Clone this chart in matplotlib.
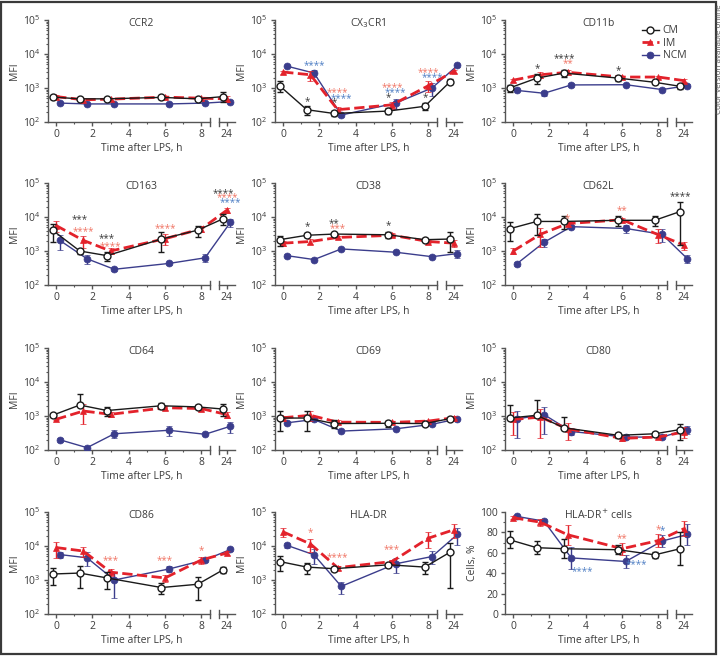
import numpy as np
import matplotlib
matplotlib.use("Agg")
import matplotlib.pyplot as plt
import matplotlib.transforms as mtransforms
from matplotlib.patches import Rectangle
from matplotlib.ticker import FixedLocator, NullFormatter, LogLocator

plt.rcParams["font.family"] = ["Open Sans", "DejaVu Sans"]
plt.rcParams["mathtext.fontset"] = "dejavusans"

# sampling times (h) and axis ticks
times = [0, 1.5, 3, 6, 8, 24]
tick_hours = [0, 2, 4, 6, 8, 24]
series = ["CM", "IM", "NCM"]

# mean values, rows: CM, IM, NCM
ccr2_mfi = [[540, 480, 480, 530, 480, 560], [560, 450, 470, 540, 500, 480], [360, 340, 340, 340, 360, 400]]
ccr2_sd = [[60, 40, 40, 50, 40, 180], [80, 50, 50, 60, 50, 100], [20, 20, 20, 20, 20, 40]]

cx3cr1_mfi = [[1170, 230, 178, 210, 290, 1540], [2950, 2450, 230, 320, 1170, 3100], [4400, 2750, 160, 360, 1000, 4600]]
cx3cr1_sd = [[400, 70, 30, 40, 70, 250], [300, 800, 50, 80, 400, 300], [300, 600, 20, 120, 400, 400]]

cd11b_mfi = [[1000, 1950, 2750, 1950, 1470, 1120], [1700, 2450, 2900, 2100, 2100, 1650], [850, 700, 1230, 1250, 900, 1170]]
cd11b_sd = [[250, 650, 700, 350, 150, 200], [150, 500, 400, 200, 200, 150], [60, 120, 150, 100, 80, 100]]

cd163_mfi = [[4100, 1000, 730, 2250, 4100, 8900], [5600, 2050, 1000, 2300, 4500, 15800], [2050, 590, 290, 430, 630, 7000]]
cd163_sd = [[2300, 180, 220, 1300, 1500, 3000], [2000, 800, 200, 800, 900, 3000], [1000, 180, 30, 40, 160, 2000]]

cd38_mfi = [[2150, 2900, 3150, 3000, 2150, 2250], [1700, 1900, 2500, 2900, 1900, 1700], [730, 560, 1150, 920, 680, 840]]
cd38_sd = [[700, 400, 300, 600, 200, 1300], [300, 300, 300, 400, 200, 400], [60, 60, 80, 60, 60, 200]]

cd62l_mfi = [[4500, 7400, 7400, 8000, 8000, 14500], [1000, 3100, 6400, 8300, 3000, 1500], [420, 1800, 5200, 4600, 3100, 590]]
cd62l_sd = [[2500, 4500, 3000, 2500, 2500, 13000], [200, 1800, 800, 1000, 1300, 400], [60, 500, 600, 1200, 1200, 150]]

cd64_mfi = [[1050, 2100, 1450, 2000, 1850, 1600], [800, 1400, 1120, 1750, 1650, 1100], [200, 117, 300, 380, 290, 500]]
cd64_sd = [[100, 2200, 450, 400, 200, 600], [60, 800, 200, 250, 200, 250], [30, 15, 80, 130, 20, 180]]

cd69_mfi = [[870, 870, 600, 610, 600, 840], [890, 1050, 660, 650, 710, 890], [630, 790, 360, 420, 570, 820]]
cd69_sd = [[500, 500, 150, 120, 60, 100], [80, 350, 80, 60, 60, 80], [60, 100, 30, 30, 40, 60]]

cd80_mfi = [[870, 1050, 450, 270, 300, 400], [790, 930, 420, 220, 240, 340], [820, 1100, 350, 240, 240, 400]]
cd80_sd = [[1250, 1900, 470, 40, 30, 200], [520, 700, 220, 30, 30, 120], [600, 800, 80, 30, 30, 100]]

cd86_mfi = [[1500, 1600, 1150, 600, 750, 2000], [9000, 7100, 1700, 1150, 3900, 6200], [5600, 4500, 1000, 2100, 3900, 7900]]
cd86_sd = [[800, 1000, 600, 220, 500, 400], [4500, 2500, 400, 300, 1000, 800], [1200, 2000, 700, 400, 500, 600]]

hladr_mfi = [[3500, 2400, 2150, 2800, 2400, 6600], [26000, 11500, 2300, 3500, 17000, 30000], [10500, 5500, 650, 3000, 4900, 22000]]
hladr_sd = [[1700, 850, 300, 400, 900, 6000], [8000, 5000, 300, 400, 8000, 13000], [1500, 2500, 250, 1400, 2000, 11000]]

cells_pct = [[72.8, 65, 64, 63, 58, 64], [94.4, 90, 77.7, 64, 72, 83.6], [95.7, 91, 55, 51.5, 71.5, 78]]
cells_sd = [[8.5, 6.5, 9.5, 4.5, 3, 16], [1.5, 3.5, 10, 6, 6, 7.5], [1, 2, 10.5, 6, 5.5, 10]]

# significance marks: (time, series, text, y value[, align])
cx3cr1_stars = [(1.5, "NCM", "****", 4500), (1.5, "CM", "*", 390),
                (3, "IM", "****", 710), (3, "NCM", "****", 500), (3, "CM", "*", 360),
                (6, "IM", "****", 1000), (6, "NCM", "****", 710), (6, "CM", "*", 530),
                (8, "IM", "****", 2900), (8, "NCM", "****", 1970), (8, "CM", "*", 510)]
cd11b_stars = [(1.5, "CM", "*", 3600), (3, "CM", "****", 7100), (3, "IM", "**", 5100), (6, "CM", "*", 3300)]
cd163_stars = [(1.5, "CM", "***", 8300), (1.5, "IM", "****", 3800),
               (3, "CM", "***", 2250), (3, "IM", "****", 1370), (6, "IM", "****", 4700),
               (24, "CM", "****", 49000), (24, "IM", "****", 36000), (24, "NCM", "****", 27000)]
cd38_stars = [(1.5, "CM", "*", 5100), (3, "CM", "**", 6400), (3, "IM", "***", 4600), (6, "CM", "*", 5700)]
cd62l_stars = [(3, "IM", "*", 8900), (6, "IM", "**", 15700), (24, "CM", "****", 40000)]
cd86_stars = [(3, "IM", "***", 3700), (6, "IM", "***", 3700), (8, "IM", "*", 7400)]
hladr_stars = [(1.5, "IM", "*", 24000), (3, "IM", "****", 4600), (6, "IM", "***", 7600)]
cells_stars = [(3, "NCM", "****", 42, "left"), (6, "NCM", "****", 48.5, "left"),
               (6, "IM", "**", 74), (8, "IM", "*", 82.6), (8, "NCM", "*", 82)]

panels = [
    ("CCR2", ccr2_mfi, ccr2_sd, []),
    ("CX$_3$CR1", cx3cr1_mfi, cx3cr1_sd, cx3cr1_stars),
    ("CD11b", cd11b_mfi, cd11b_sd, cd11b_stars),
    ("CD163", cd163_mfi, cd163_sd, cd163_stars),
    ("CD38", cd38_mfi, cd38_sd, cd38_stars),
    ("CD62L", cd62l_mfi, cd62l_sd, cd62l_stars),
    ("CD64", cd64_mfi, cd64_sd, []),
    ("CD69", cd69_mfi, cd69_sd, []),
    ("CD80", cd80_mfi, cd80_sd, []),
    ("CD86", cd86_mfi, cd86_sd, cd86_stars),
    ("HLA-DR", hladr_mfi, hladr_sd, hladr_stars),
    ("HLA-DR$^{+}$ cells", cells_pct, cells_sd, cells_stars),
]

colors = {"CM": "#1a1a1a", "IM": "#e3222b", "NCM": "#3b3d8c"}
star_colors = {"CM": "#3a3a3a", "IM": "#f07565", "NCM": "#4f7fc4"}
offsets = {"CM": -0.2, "IM": 0.0, "NCM": 0.2}
styles = {
    "CM": dict(ls="-", lw=1.0, marker="o", ms=5, mfc="white", mew=1.0, zorder=5),
    "IM": dict(ls="--", lw=2.0, marker="^", ms=5, mew=0.5, zorder=4),
    "NCM": dict(ls="-", lw=1.0, marker="o", ms=5, mew=0.5, zorder=3),
}
grey = "#555555"
txt = "#3c3c3c"
fs = 7.5


def to_axis(t):
    # broken time axis: 0-8 h linear, 24 h placed after the gap
    return t if t <= 8 else 9.4


W, H = 725, 656
fig = plt.figure(figsize=(W / 100, H / 100), dpi=100)

col_left = [48, 275, 505]
row_top = [20, 183, 348, 512]
ax_w, ax_h = 187, 102

for i, (title, mean, sd, stars) in enumerate(panels):
    r, c = divmod(i, 3)
    ax = fig.add_axes([col_left[c] / W, 1 - (row_top[r] + ax_h) / H, ax_w / W, ax_h / H])
    is_log = i < 11

    lines = {}
    for name in ["NCM", "IM", "CM"]:
        s = series.index(name)
        m = np.array(mean[s], dtype=float)
        e = np.array(sd[s], dtype=float)
        lo = np.where(e < m, e, 0) if is_log else np.minimum(e, m)
        x = [to_axis(t) + offsets[name] for t in times]
        st = styles[name]
        cont = ax.errorbar(x, m, yerr=[lo, e], color=colors[name], mec=colors[name],
                           capsize=2, elinewidth=1, capthick=1, **st)
        lines[name] = cont[0]

    for star in stars:
        t, name, s_txt, yv = star[:4]
        ha = star[4] if len(star) > 4 else "center"
        ax.text(to_axis(t) + offsets[name], yv, s_txt, ha=ha, va="center",
                color=star_colors[name], fontsize=7, zorder=6)

    if is_log:
        ax.set_yscale("log")
        ax.set_ylim(100, 1e5)
        ax.yaxis.set_major_locator(FixedLocator([1e2, 1e3, 1e4, 1e5]))
        ax.yaxis.set_minor_locator(LogLocator(base=10, subs=np.arange(2, 10)))
        ax.yaxis.set_minor_formatter(NullFormatter())
        ax.set_ylabel("MFI", fontsize=fs, color=txt, labelpad=2)
    else:
        ax.set_ylim(0, 100)
        ax.set_yticks([0, 20, 40, 60, 80, 100])
        ax.set_yticks([10, 30, 50, 70, 90], minor=True)
        ax.set_ylabel("Cells, %", fontsize=fs, color=txt, labelpad=2)

    ax.set_xlim(-0.45, 9.85)
    ax.set_xticks([to_axis(t) for t in tick_hours])
    ax.set_xticklabels([str(t) for t in tick_hours])
    ax.set_xticks([1, 3, 5, 7], minor=True)
    ax.set_xlabel("Time after LPS, h", fontsize=fs, color=txt, labelpad=2)

    for side in ["top", "right"]:
        ax.spines[side].set_visible(False)
    for side in ["left", "bottom"]:
        ax.spines[side].set_color(grey)
        ax.spines[side].set_linewidth(1.0)
    ax.spines["bottom"].set_bounds(-0.45, 8.5)
    tr = mtransforms.blended_transform_factory(ax.transData, ax.transAxes)
    ax.plot([8.95, 9.85], [0, 0], transform=tr, color=grey, lw=1.0, clip_on=False)
    ax.plot([8.5, 8.5], [-0.04, 0.04], transform=tr, color=grey, lw=1.0, clip_on=False)
    ax.plot([8.95, 8.95], [-0.04, 0.04], transform=tr, color=grey, lw=1.0, clip_on=False)

    ax.tick_params(which="major", length=3, width=1, color=grey, labelsize=fs,
                   labelcolor=txt, pad=2)
    ax.tick_params(which="minor", length=1.5, width=0.8, color=grey)

    ax.text(0.5, 0.97, title, transform=ax.transAxes, ha="center", va="center",
            fontsize=fs, color=txt)

    if i == 2:
        ax.legend([lines["CM"], lines["IM"], lines["NCM"]], series, loc="upper right",
                  bbox_to_anchor=(1.02, 1.04), frameon=False, fontsize=fs,
                  handlelength=1.6, handletextpad=0.4, labelspacing=0.15,
                  labelcolor=txt)

fig.text(719.5 / W, 1 - 4 / H, "Color version available online", rotation=90,
         ha="center", va="top", fontsize=5.8, color="#555555")
fig.patches.append(Rectangle((1 / W, 1 - 654 / H), 715 / W, 652 / H, transform=fig.transFigure,
                             fill=False, ec="#3a3a3a", lw=1.6))

fig.savefig("out.png", dpi=100)
